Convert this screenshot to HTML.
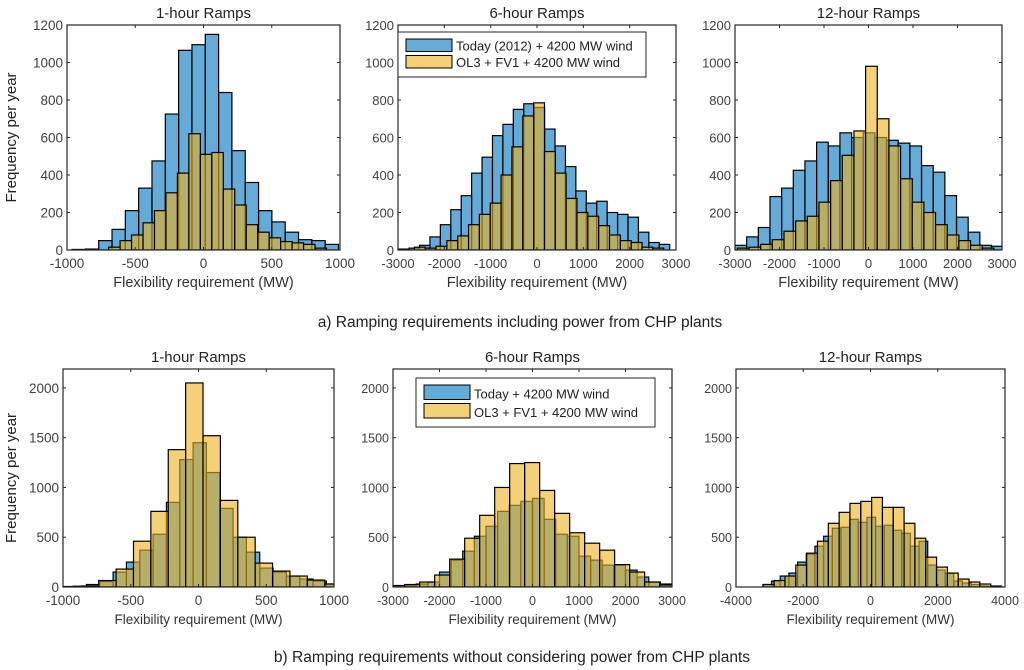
<!DOCTYPE html>
<html><head><meta charset="utf-8"><style>
body{margin:0;background:#fff;}
svg{display:block;font-family:"Liberation Sans",sans-serif;}
</style></head><body>
<svg id="fig" width="1024" height="670" viewBox="0 0 1024 670"></svg>
<script>
// ---- data (bin start MW, bin width MW, counts) ----
const a1BlueStart=-963, a1BlueWidth=97.6;
const a1Blue=[3,5,50,110,210,330,475,725,1065,1095,1150,840,530,360,210,150,95,55,50,30];
const a1YellowStart=-695, a1YellowWidth=84;
const a1Yellow=[15,50,80,145,210,305,410,620,510,520,325,240,135,95,65,45,38,30,10];

const a2BlueStart=-2986, a2BlueWidth=225;
const a2Blue=[5,10,25,70,135,215,290,410,495,610,670,750,780,760,645,555,445,315,250,260,200,190,175,95,40,30];
const a2YellowStart=-2647, a2YellowWidth=234;
const a2Yellow=[15,10,20,50,75,135,190,250,400,550,715,785,525,410,275,200,180,130,80,50,40,15,10];

const a3BlueStart=-3000, a3BlueWidth=262;
const a3Blue=[25,70,120,285,330,425,475,575,555,625,600,625,600,585,570,555,450,415,290,175,95,25,20];
const a3YellowStart=-2947, a3YellowWidth=262;
const a3Yellow=[10,15,30,55,100,155,180,255,370,505,635,980,700,555,380,255,200,135,80,50,25,10];

const b1BlueStart=-1024, b1BlueWidth=98.4;
const b1Blue=[3,8,25,55,150,250,370,530,850,1280,1450,1150,790,500,350,190,150,110,80,60,30];
const b1YellowStart=-993, b1YellowWidth=128.3;
const b1Yellow=[5,10,65,180,460,760,1380,2050,1520,870,500,240,160,110,70,30];

const b2BlueStart=-3000, b2BlueWidth=250;
const b2Blue=[10,15,30,50,150,270,360,510,610,760,820,860,890,680,530,510,310,270,220,220,170,100,50,30];
const b2YellowStart=-3071, b2YellowWidth=322.5;
const b2Yellow=[15,25,50,120,280,490,720,1000,1240,1250,970,740,545,440,370,225,150,50,20];

const b3BlueStart=-3200, b3BlueWidth=258;
const b3Blue=[25,60,110,140,250,330,410,510,590,600,680,650,700,610,620,570,540,410,460,220,170,140,60,40,25,10];
const b3YellowStart=-3187, b3YellowWidth=322;
const b3Yellow=[25,65,110,220,340,460,640,750,840,860,900,800,800,640,490,300,200,140,80,50,30,10];

const aYTicks=[0,200,400,600,800,1000,1200];
const bYTicks=[0,500,1000,1500,2000];
const x1Ticks=[-1000,-500,0,500,1000];
const x3Ticks=[-3000,-2000,-1000,0,1000,2000,3000];
const x4Ticks=[-4000,-2000,0,2000,4000];

const NS="http://www.w3.org/2000/svg";
const svg=document.getElementById('fig');
function mk(tag,attrs,parent){const e=document.createElementNS(NS,tag);for(const k in attrs)e.setAttribute(k,attrs[k]);(parent||svg).appendChild(e);return e;}
function txt(s,attrs,parent){const e=mk('text',attrs,parent);e.textContent=s;return e;}

const panels=[
 {id:'a1',title:'1-hour Ramps',L:67,R:340,T:25,B:250,xmin:-1000,xmax:1000,ymax:1200,xt:x1Ticks,yt:aYTicks,bs:a1BlueStart,bw:a1BlueWidth,bv:a1Blue,ys:a1YellowStart,yw:a1YellowWidth,yv:a1Yellow,ylab:true,fs:13.5,xl:'Flexibility requirement (MW)'},
 {id:'a2',title:'6-hour Ramps',L:398,R:676,T:25,B:250,xmin:-3000,xmax:3000,ymax:1200,xt:x3Ticks,yt:aYTicks,bs:a2BlueStart,bw:a2BlueWidth,bv:a2Blue,ys:a2YellowStart,yw:a2YellowWidth,yv:a2Yellow,fs:13,xl:'Flexibility requirement (MW)'},
 {id:'a3',title:'12-hour Ramps',L:735,R:1002,T:25,B:250,xmin:-3000,xmax:3000,ymax:1200,xt:x3Ticks,yt:aYTicks,bs:a3BlueStart,bw:a3BlueWidth,bv:a3Blue,ys:a3YellowStart,yw:a3YellowWidth,yv:a3Yellow,fs:13,xl:'Flexibility requirement (MW)'},
 {id:'b1',title:'1-hour Ramps',L:63,R:334,T:369,B:587,xmin:-1000,xmax:1000,ymax:2190,xt:x1Ticks,yt:bYTicks,bs:b1BlueStart,bw:b1BlueWidth,bv:b1Blue,ys:b1YellowStart,yw:b1YellowWidth,yv:b1Yellow,ylab:true,fs:13.5,xl:'Flexibility requirement (MW)'},
 {id:'b2',title:'6-hour Ramps',L:393,R:672,T:369,B:587,xmin:-3000,xmax:3000,ymax:2190,xt:x3Ticks,yt:bYTicks,bs:b2BlueStart,bw:b2BlueWidth,bv:b2Blue,ys:b2YellowStart,yw:b2YellowWidth,yv:b2Yellow,fs:12.5,xl:'Flexibility requirement (MW)'},
 {id:'b3',title:'12-hour Ramps',L:736,R:1005,T:369,B:587,xmin:-4000,xmax:4000,ymax:2190,xt:x4Ticks,yt:bYTicks,bs:b3BlueStart,bw:b3BlueWidth,bv:b3Blue,ys:b3YellowStart,yw:b3YellowWidth,yv:b3Yellow,fs:12.5,xl:'Flexibility requirement (MW)'}
];

panels.forEach(p=>{
  const g=mk('g',{});
  
  
  const xs=v=>p.L+(v-p.xmin)/(p.xmax-p.xmin)*(p.R-p.L);
  const ys=v=>p.B-v/p.ymax*(p.B-p.T);
  const cid='clip-'+p.id;
  const cp=mk('clipPath',{id:cid},g);mk('rect',{x:p.L,y:p.T,width:p.R-p.L,height:p.B-p.T},cp);
  const bars=mk('g',{'clip-path':'url(#'+cid+')'},g);
  function series(start,w,vals,color,name){
    vals.forEach((v,i)=>{
      const x0=xs(start+i*w),x1=xs(start+(i+1)*w);
      const r=mk('rect',{x:x0,y:ys(v),width:x1-x0,height:p.B-ys(v),fill:color,'fill-opacity':0.6,stroke:'#000','stroke-width':1.2},bars);
      
      
    });
  }
  series(p.bs,p.bw,p.bv,'rgb(0,114,189)','today');
  series(p.ys,p.yw,p.yv,'rgb(237,177,32)','ol3');
  mk('rect',{x:p.L,y:p.T,width:p.R-p.L,height:p.B-p.T,fill:'none',stroke:'#262626','stroke-width':1.2},g);
  p.xt.forEach(t=>{
    const x=xs(t);
    mk('line',{x1:x,x2:x,y1:p.B,y2:p.B-3,stroke:'#262626'},g);
    mk('line',{x1:x,x2:x,y1:p.T,y2:p.T+3,stroke:'#262626'},g);
    const l=txt(String(t),{x:x,y:p.B+18,'text-anchor':'middle','font-size':p.fs,fill:'#404040'},g);
    
    
  });
  p.yt.forEach(t=>{
    const y=ys(t);
    mk('line',{x1:p.L,x2:p.L+3,y1:y,y2:y,stroke:'#262626'},g);
    mk('line',{x1:p.R,x2:p.R-3,y1:y,y2:y,stroke:'#262626'},g);
    const l=txt(String(t),{x:p.L-4,y:y+5,'text-anchor':'end','font-size':p.fs,fill:'#404040'},g);
    
    
  });
  const tt=txt(p.title,{x:(p.L+p.R)/2,y:p.T-7,'text-anchor':'middle','font-size':15,fill:'#222'},g);
  
  
  const xl=txt(p.xl,{x:(p.L+p.R)/2,y:p.B+37,'text-anchor':'middle','font-size':p.id[0]==='a'?14.5:13.5,fill:'#333'},g);
  
  
  if(p.ylab){
    const cy=(p.T+p.B)/2;
    const yl=txt('Frequency per year',{x:16,y:cy,transform:'rotate(-90 16 '+cy+')','text-anchor':'middle','font-size':15,fill:'#222'},g);
    
    
  }
});

function legend(x,y,w,h,sw,l1,l2,fs){
  const g=mk('g',{});
  
  
  mk('rect',{x:x,y:y,width:w,height:h,fill:'#fff',stroke:'#262626'},g);
  const rows=[[l1,'rgb(0,114,189)'],[l2,'rgb(237,177,32)']];
  rows.forEach((r,i)=>{
    const ry=y+6+i*(h-12)/2;
    const rh=(h-12)/2-4;
    mk('rect',{x:x+8,y:ry+1,width:sw,height:rh,fill:r[1],'fill-opacity':0.6,stroke:'#000'},g);
    const t=txt(r[0],{x:x+12+sw,y:ry+rh,'font-size':fs,fill:'#222'},g);
    
    
  });
}
legend(398,32,248,45,46,'Today (2012) + 4200 MW wind','OL3 + FV1 + 4200 MW wind',13);
legend(416,378,239,49,46,'Today + 4200 MW wind','OL3 + FV1 + 4200 MW wind',13);

const c1=txt('a) Ramping requirements including power from CHP plants',{x:520,y:327,'text-anchor':'middle','font-size':15.5,fill:'#222'});


const c2=txt('b) Ramping requirements without considering power from CHP plants',{x:512,y:662,'text-anchor':'middle','font-size':15.5,fill:'#222'});


</script>
</body></html>
